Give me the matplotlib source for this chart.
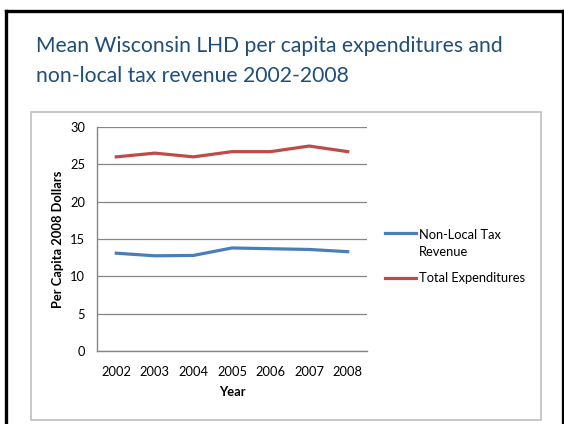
import matplotlib
matplotlib.use("Agg")
import matplotlib.pyplot as plt
from matplotlib.patches import Rectangle
from matplotlib.lines import Line2D

years = ["2002", "2003", "2004", "2005", "2006", "2007", "2008"]
non_local = [13.1, 12.75, 12.8, 13.8, 13.7, 13.6, 13.3]
total_exp = [26.0, 26.5, 26.0, 26.7, 26.7, 27.45, 26.7]
yticks = [0, 5, 10, 15, 20, 25, 30]
series_labels = ["Non-Local Tax\nRevenue", "Total Expenditures"]

W, H = 564, 424
fig = plt.figure(figsize=(W / 100, H / 100), dpi=100)
FONT = ["Lato", "DejaVu Sans"]
FS = 9.3

def fx(x):
    return x / W

def fy(y):
    return 1 - y / H

# outer slide frame (black, open at the bottom)
for xs, ys in [([5.5, 5.5], [10.5, 430]), ([5.5, 562.5], [10.5, 10.5]), ([562.5, 562.5], [10.5, 430])]:
    fig.add_artist(Line2D([fx(v) for v in xs], [fy(v) for v in ys], color="black", lw=2.4,
                          transform=fig.transFigure, solid_capstyle="projecting"))

# title
fig.text(fx(36), fy(46), "Mean Wisconsin LHD per capita expenditures and",
         fontsize=15.2, color="#1F4E79", family=FONT, va="center", ha="left")
fig.text(fx(36), fy(76), "non-local tax revenue 2002-2008",
         fontsize=15.2, color="#1F4E79", family=FONT, va="center", ha="left")

# chart box
fig.add_artist(Rectangle((fx(31), fy(420)), fx(541) - fx(31), fy(112) - fy(420),
                         transform=fig.transFigure, fill=False, edgecolor="#BFBFBF", lw=1.2))

ax = fig.add_axes([fx(97), fy(351), fx(367) - fx(97), fy(127) - fy(351)])
x = list(range(len(years)))
ax.plot(x, non_local, color="#4A7EBB", lw=2.3, label=series_labels[0])
ax.plot(x, total_exp, color="#BE4B48", lw=2.3, label=series_labels[1])
ax.set_xlim(-0.5, len(years) - 0.5)
ax.set_ylim(0, 30)
ax.set_yticks(yticks)
ax.set_xticks(x)
ax.set_xticklabels(years)
ax.yaxis.grid(True, color="#868686", lw=0.9)
ax.set_axisbelow(True)
for s in ["top", "right"]:
    ax.spines[s].set_visible(False)
for s in ["left", "bottom"]:
    ax.spines[s].set_color("#868686")
    ax.spines[s].set_linewidth(1.0)
ax.tick_params(axis="both", length=0, labelsize=FS, colors="black")
ax.tick_params(axis="x", pad=10.5)
ax.tick_params(axis="y", pad=8.6)
for lab in ax.get_xticklabels() + ax.get_yticklabels():
    lab.set_family(FONT)
ax.set_xlabel("Year", fontsize=FS, fontweight="bold", family=FONT, labelpad=6)
ax.yaxis.set_label_coords((fx(58) - fx(97)) / (fx(367) - fx(97)), 0.5)
ax.set_ylabel("Per Capita 2008 Dollars", fontsize=FS, fontweight="bold", family=FONT, va="center")

leg = fig.legend(loc="upper left", bbox_to_anchor=(fx(385), fy(229)), frameon=False,
                 prop={"family": FONT, "size": FS}, handlelength=2.4, handletextpad=0.2,
                 labelspacing=1.15, borderaxespad=0, borderpad=0)
for t in leg.get_texts():
    t.set_linespacing(1.45)
# align the first handle with the first text line (as in the reference)
l0 = leg.get_lines()[0]
y0 = l0.get_ydata()
l0.set_ydata([v + 7.5 for v in y0])

fig.savefig("out.png", dpi=100)
